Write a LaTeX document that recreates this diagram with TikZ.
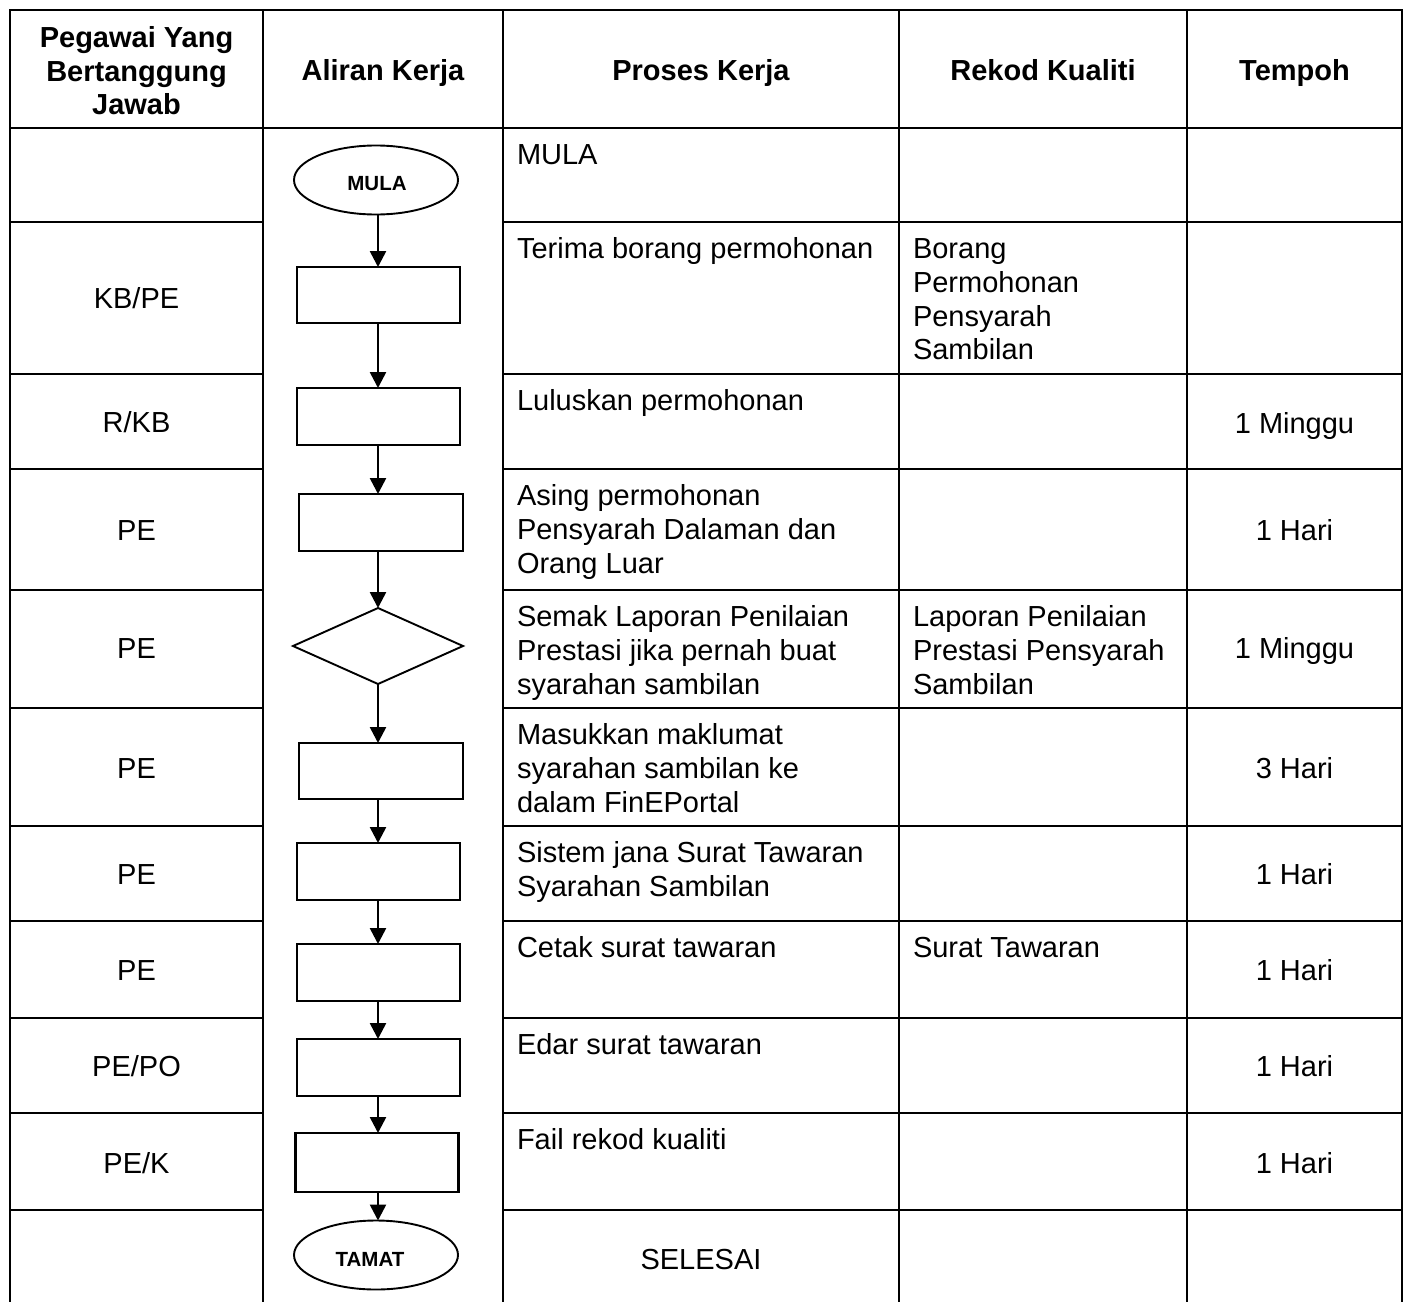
\documentclass[tikz,border=0pt]{standalone}
\usepackage{fontspec}
\setmainfont{Liberation Sans}
\usetikzlibrary{arrows.meta,shapes.geometric}
\begin{document}
\begin{tikzpicture}[x=1pt,y=-1pt,
  tbl/.style={line width=2.8pt, line cap=rect},
  body/.style={font=\fontsize{29}{33.7}\selectfont, inner sep=0pt, outer sep=0pt},
  bodyml/.style={body, align=left, anchor=north west},
  hdr/.style={font=\fontsize{29}{33.7}\selectfont\bfseries, inner sep=0pt, outer sep=0pt},
  proc/.style={draw, line width=2.4pt, rectangle, minimum width=163pt, minimum height=57pt, inner sep=0pt, outer sep=0pt},
  term/.style={draw, line width=1.9pt, ellipse, minimum width=164pt, minimum height=69pt, inner sep=0pt, outer sep=0pt},
  termtext/.style={font=\fontsize{20.5}{24}\selectfont\bfseries, inner sep=0pt, anchor=base},
  dec/.style={draw, line width=1.9pt, diamond, minimum width=170pt, minimum height=76pt, inner sep=0pt, outer sep=0pt},
  flow/.style={line width=2.6pt, -{Triangle[length=16pt,width=16pt]}},
]
\useasboundingbox (0,0) rectangle (1407,1301);
\fill[white] (0,0) rectangle (1407,1301);

% ---------- table grid ----------
\foreach \xx in {10,263,503,899,1187,1402}
  \draw[tbl] (\xx,10) -- (\xx,1301);
\draw[tbl] (10,10) -- (1402,10);
\draw[tbl] (10,128) -- (1402,128);
\foreach \yy in {222,374,469,590,708,826,921,1018,1113,1210}{
  \draw[tbl] (10,\yy) -- (263,\yy);
  \draw[tbl] (503,\yy) -- (1402,\yy);
}

% ---------- header ----------
\node[hdr, align=center, anchor=north] (h1) at (136.5,23.8) {\strut Pegawai Yang\\Bertanggung\\Jawab};
\node[hdr, anchor=base] (h2) at (383,80.4) {Aliran Kerja};
\node[hdr, anchor=base] (h3) at (701,80.4) {Proses Kerja};
\node[hdr, anchor=base] (h4) at (1043,80.4) {Rekod Kualiti};
\node[hdr, anchor=base] (h5) at (1294.5,80.4) {Tempoh};

% ---------- column 1 ----------
\node[body, anchor=base] (p1) at (136.5,308.4) {KB/PE};
\node[body, anchor=base] (p2) at (136.5,432.4) {R/KB};
\node[body, anchor=base] (p3) at (136.5,540.4) {PE};
\node[body, anchor=base] (p4) at (136.5,658.4) {PE};
\node[body, anchor=base] (p5) at (136.5,778.4) {PE};
\node[body, anchor=base] (p6) at (136.5,884.4) {PE};
\node[body, anchor=base] (p7) at (136.5,980.4) {PE};
\node[body, anchor=base] (p8) at (136.5,1076.4) {PE/PO};
\node[body, anchor=base] (p9) at (136.5,1173.4) {PE/K};

% ---------- column 3 ----------
\node[bodyml] (k0) at (517,141.3) {\strut MULA};
\node[bodyml] (k1) at (517,235.3) {\strut Terima borang permohonan};
\node[bodyml] (k2) at (517,387.3) {\strut Luluskan permohonan};
\node[bodyml] (k3) at (517,482.3) {\strut Asing permohonan\\Pensyarah Dalaman dan\\Orang Luar};
\node[bodyml] (k4) at (517,603.3) {\strut Semak Laporan Penilaian\\Prestasi jika pernah buat\\syarahan sambilan};
\node[bodyml] (k5) at (517,721.3) {\strut Masukkan maklumat\\syarahan sambilan ke\\dalam FinEPortal};
\node[bodyml] (k6) at (517,839.3) {\strut Sistem jana Surat Tawaran\\Syarahan Sambilan};
\node[bodyml] (k7) at (517,934.3) {\strut Cetak surat tawaran};
\node[bodyml] (k8) at (517,1031.3) {\strut Edar surat tawaran};
\node[bodyml] (k9) at (517,1126.3) {\strut Fail rekod kualiti};
\node[body, anchor=base] (k10) at (701,1269.4) {SELESAI};

% ---------- column 4 ----------
\node[bodyml] (q1) at (913,235.3) {\strut Borang\\Permohonan\\Pensyarah\\Sambilan};
\node[bodyml] (q2) at (913,603.3) {\strut Laporan Penilaian\\Prestasi Pensyarah\\Sambilan};
\node[bodyml] (q3) at (913,934.3) {\strut Surat Tawaran};

% ---------- column 5 ----------
\node[body, anchor=base] (t2) at (1294.5,433.4) {1 Minggu};
\node[body, anchor=base] (t3) at (1294.5,540.4) {1 Hari};
\node[body, anchor=base] (t4) at (1294.5,658.4) {1 Minggu};
\node[body, anchor=base] (t5) at (1294.5,778.4) {3 Hari};
\node[body, anchor=base] (t6) at (1294.5,884.4) {1 Hari};
\node[body, anchor=base] (t7) at (1294.5,980.4) {1 Hari};
\node[body, anchor=base] (t8) at (1294.5,1076.4) {1 Hari};
\node[body, anchor=base] (t9) at (1294.5,1173.4) {1 Hari};

% ---------- flowchart ----------
\node[term] (mula) at (376,180) {};
\node[termtext] (mulat) at (377,190.3) {MULA};
\node[proc, minimum height=56pt] (r1) at (378.5,295) {};
\node[proc] (r2) at (378.5,416.5) {};
\node[proc, minimum width=164pt] (r3) at (381,522.5) {};
\node[dec] (d1) at (378,646) {};
\node[proc, minimum width=164pt, minimum height=56pt] (r4) at (381,771) {};
\node[proc] (r5) at (378.5,871.5) {};
\node[proc] (r6) at (378.5,972.5) {};
\node[proc] (r7) at (378.5,1067.5) {};
\node[proc, minimum height=59pt] (r8) at (377,1162.5) {};
\node[term] (tamat) at (376,1255) {};
\node[termtext] (tamatt) at (370,1266.3) {TAMAT};

\coordinate (c0) at (378,0);
\draw[flow] (mula.south -| c0) -- (r1.north -| c0);
\draw[flow] (r1.south -| c0) -- (r2.north -| c0);
\draw[flow] (r2.south -| c0) -- (r3.north -| c0);
\draw[flow] (r3.south -| c0) -- (d1.north);
\draw[flow] (d1.south) -- (r4.north -| c0);
\draw[flow] (r4.south -| c0) -- (r5.north -| c0);
\draw[flow] (r5.south -| c0) -- (r6.north -| c0);
\draw[flow] (r6.south -| c0) -- (r7.north -| c0);
\draw[flow] (r7.south -| c0) -- (r8.north -| c0);
\draw[flow] (r8.south -| c0) -- (tamat.north -| c0);
\end{tikzpicture}
\end{document}
